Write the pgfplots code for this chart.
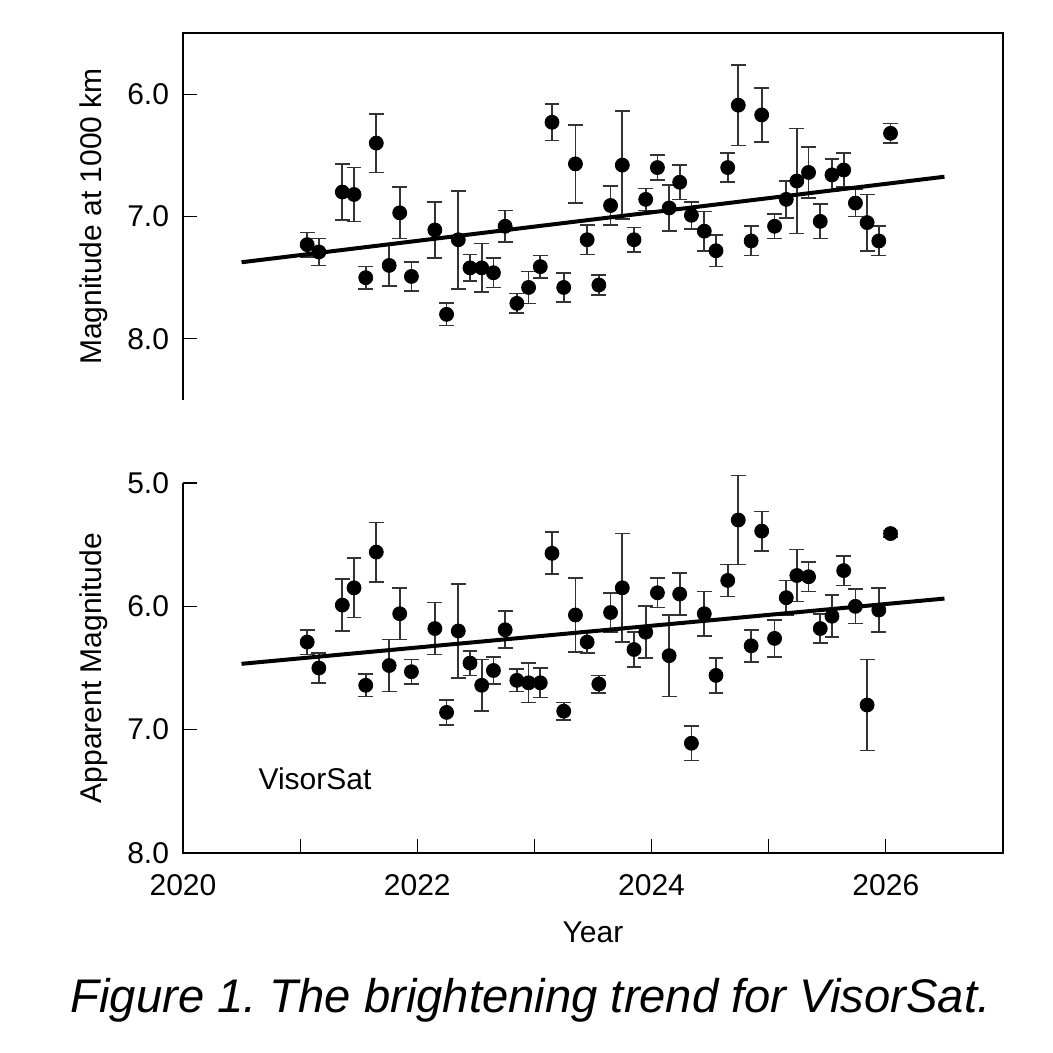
\documentclass[border=0pt]{standalone}
\usepackage{fontspec}
\setmainfont{Liberation Sans}
\usepackage{pgfplots}
\usepackage{pgfplotstable}
\pgfplotsset{compat=1.18}

\pgfplotstableread{
x y e
2021.06 7.23 0.10
2021.16 7.29 0.11
2021.36 6.80 0.23
2021.46 6.82 0.22
2021.56 7.50 0.09
2021.65 6.40 0.24
2021.76 7.40 0.17
2021.85 6.97 0.21
2021.95 7.49 0.12
2022.15 7.11 0.23
2022.25 7.80 0.09
2022.35 7.19 0.40
2022.45 7.42 0.11
2022.55 7.42 0.20
2022.65 7.46 0.12
2022.75 7.08 0.13
2022.85 7.71 0.08
2022.95 7.58 0.13
2023.05 7.41 0.09
2023.15 6.23 0.15
2023.25 7.58 0.12
2023.35 6.57 0.32
2023.45 7.19 0.12
2023.55 7.56 0.08
2023.65 6.91 0.16
2023.75 6.58 0.44
2023.85 7.19 0.10
2023.95 6.86 0.09
2024.05 6.60 0.10
2024.15 6.93 0.19
2024.24 6.72 0.14
2024.34 6.99 0.11
2024.45 7.12 0.16
2024.55 7.28 0.13
2024.65 6.60 0.12
2024.74 6.09 0.33
2024.85 7.20 0.12
2024.94 6.17 0.22
2025.05 7.08 0.10
2025.15 6.86 0.15
2025.24 6.71 0.43
2025.34 6.64 0.21
2025.44 7.04 0.14
2025.54 6.66 0.13
2025.64 6.62 0.14
2025.74 6.89 0.11
2025.84 7.05 0.23
2025.94 7.20 0.12
2026.04 6.32 0.08
}\toptable

\pgfplotstableread{
x y e
2021.06 6.29 0.10
2021.16 6.50 0.12
2021.36 5.99 0.21
2021.46 5.85 0.24
2021.56 6.64 0.09
2021.65 5.56 0.24
2021.76 6.48 0.21
2021.85 6.06 0.21
2021.95 6.53 0.10
2022.15 6.18 0.21
2022.25 6.86 0.10
2022.35 6.20 0.38
2022.45 6.46 0.10
2022.55 6.64 0.21
2022.65 6.52 0.11
2022.75 6.19 0.15
2022.85 6.60 0.09
2022.95 6.62 0.16
2023.05 6.62 0.12
2023.15 5.57 0.17
2023.25 6.85 0.07
2023.35 6.07 0.30
2023.45 6.29 0.09
2023.55 6.63 0.07
2023.65 6.05 0.16
2023.75 5.85 0.44
2023.85 6.35 0.14
2023.95 6.21 0.21
2024.05 5.89 0.12
2024.15 6.40 0.33
2024.24 5.90 0.17
2024.34 7.11 0.14
2024.45 6.06 0.18
2024.55 6.56 0.14
2024.65 5.79 0.13
2024.74 5.30 0.36
2024.85 6.32 0.13
2024.94 5.39 0.16
2025.05 6.26 0.15
2025.15 5.93 0.14
2025.24 5.75 0.21
2025.34 5.76 0.12
2025.44 6.18 0.12
2025.54 6.08 0.17
2025.64 5.71 0.12
2025.74 6.00 0.14
2025.84 6.80 0.37
2025.94 6.03 0.18
2026.04 5.41 0.025
}\bottable

\pgfplotsset{
  panel/.style={
    scale only axis,
    width=410pt,
    xmin=2020, xmax=2027,
    y dir=reverse,
    axis line style={draw=none},
    tick align=inside,
    major tick length=7pt,
    minor tick length=7pt,
    every tick/.style={black, line width=0.6pt},
    ytick pos=left,
    xtick pos=bottom,
    /pgf/number format/assume math mode=true,
    /pgf/number format/1000 sep={},
    tick label style={font=\fontsize{15}{18}\selectfont},
    yticklabel style={anchor=east, inner sep=0pt, xshift=-6.8pt,
      /pgf/number format/.cd, fixed, fixed zerofill, precision=1},
    xticklabel style={anchor=base, inner sep=0pt, yshift=-21pt},
    label style={font=\fontsize{15}{18}\selectfont},
    ylabel style={at={(axis description cs:-0.0988,0.5)}, anchor=base},
    clip=false,
  },
  pts/.style={only marks, mark=*, mark size=3.5pt, black,
    error bars/.cd, y dir=both, y explicit,
    error bar style={line width=0.85pt, black!80},
    error mark options={rotate=90, mark size=3.7pt, line width=0.85pt, black!80}},
}

\begin{document}
\frenchspacing
\begin{tikzpicture}
\path[use as bounding box] (-91.5pt,-100pt) rectangle (435pt,426.5pt);

\begin{axis}[panel, name=top, at={(0pt,226.5pt)}, anchor=south west,
  height=183.5pt, ymin=5.5, ymax=8.5, ytick={6,7,8}, xtick=\empty,
  ylabel={Magnitude at 1000 km}]
\addplot[pts] table[x=x, y=y, y error=e] {\toptable};
\addplot[line width=2pt, black, no marks] coordinates {(2020.5,7.374) (2026.5,6.675)};
\end{axis}

\begin{axis}[panel, name=bot, at={(0pt,0pt)}, anchor=south west,
  height=185pt, ymin=5, ymax=8, ytick={5,6,7,8},
  xtick={2020,2022,2024,2026}, minor xtick={2021,2023,2025},
  ylabel={Apparent Magnitude}, xlabel={Year},
  xlabel style={at={(axis description cs:0.5,-0.2432)}, anchor=base}]
\addplot[pts] table[x=x, y=y, y error=e] {\bottable};
\addplot[line width=2pt, black, no marks] coordinates {(2020.5,6.466) (2026.5,5.937)};
\node[anchor=base west, font=\fontsize{15}{18}\selectfont] at (axis cs:2020.585,7.488) {VisorSat};
\end{axis}

\draw[line width=0.6pt] (top.south west) -- (top.north west) -- (top.north east)
  -- (bot.south east) -- (bot.south west) -- (bot.north west);

\node[anchor=base, font=\fontsize{23.6}{28}\selectfont\itshape] at (173.75pt,-79.5pt)
  {Figure 1. The brightening trend for VisorSat.};
\end{tikzpicture}
\end{document}
